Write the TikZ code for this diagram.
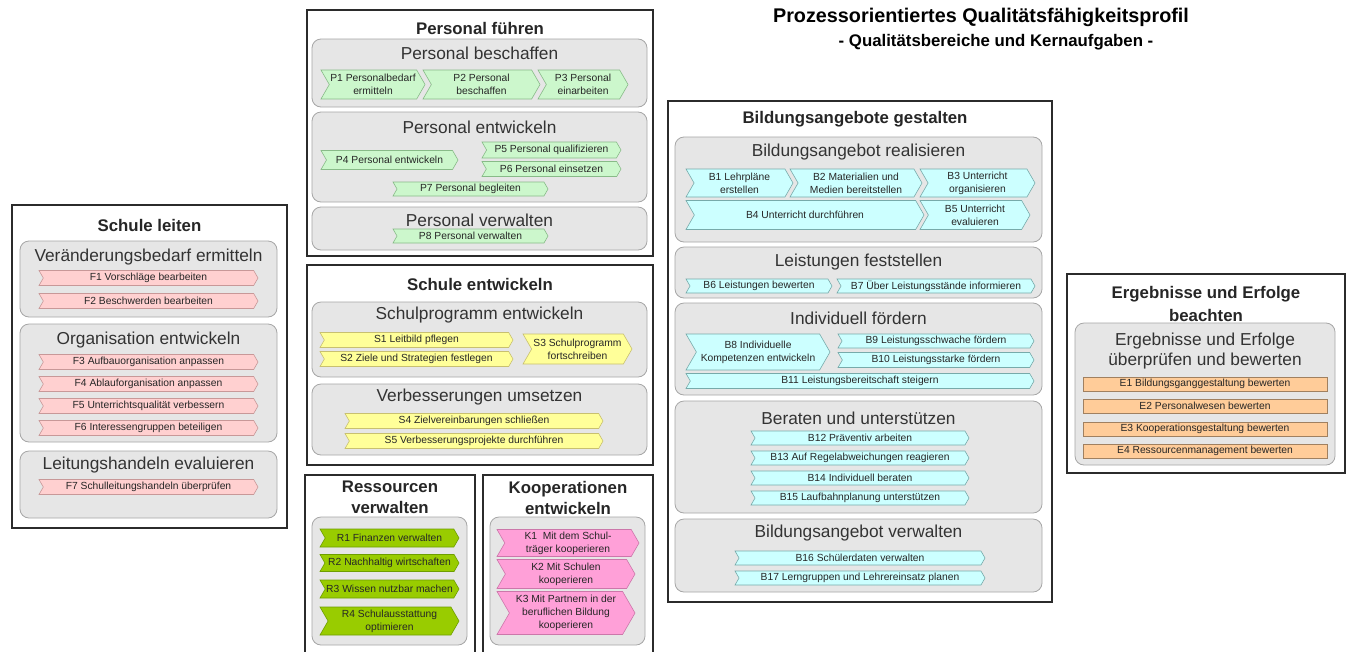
\documentclass[tikz,border=0pt]{standalone}
\usepackage{fontspec}
\setmainfont{Liberation Sans}
\usetikzlibrary{shapes.symbols}
\definecolor{framecol}{HTML}{2B2B2B}
\definecolor{areafill}{HTML}{E6E6E6}
\definecolor{arealine}{HTML}{A6A6A6}
\definecolor{fcol}{HTML}{FFD0D0}
\definecolor{fline}{HTML}{C89898}
\definecolor{pcol}{HTML}{CCF7CC}
\definecolor{pline}{HTML}{88BB88}
\definecolor{scol}{HTML}{FFFF99}
\definecolor{sline}{HTML}{C8C070}
\definecolor{rcol}{HTML}{99CC00}
\definecolor{rline}{HTML}{6E9E00}
\definecolor{kcol}{HTML}{FFA0D8}
\definecolor{kline}{HTML}{CC77AA}
\definecolor{bcol}{HTML}{CCFFFF}
\definecolor{bline}{HTML}{77AAAA}
\definecolor{ecol}{HTML}{FFCC99}
\definecolor{eline}{HTML}{A08060}
\tikzset{
  groupbox/.style={draw=framecol, line width=1.4pt, fill=white},
  areabox/.style={draw=arealine, fill=areafill, rounded corners=9pt, line width=0.8pt},
  headline/.style={font=\bfseries\fontsize{16.8}{21}\selectfont, align=center, text=black!85},
  areatitle/.style={font=\fontsize{17.3}{20}\selectfont, align=center, text=black!80},
  chev/.style={shape=signal, signal to=east, signal from=west,
    signal pointer angle=120, line width=0.6pt, inner sep=1pt, align=center,
    font=\fontsize{10.3}{13}\selectfont, text=black!85},
  fchev/.style={chev, fill=fcol, draw=fline},
  pchev/.style={chev, fill=pcol, draw=pline},
  schev/.style={chev, fill=scol, draw=sline},
  rchev/.style={chev, fill=rcol, draw=rline},
  kchev/.style={chev, fill=kcol, draw=kline},
  bchev/.style={chev, fill=bcol, draw=bline},
  ebox/.style={rectangle, fill=ecol, draw=eline, line width=0.6pt, inner sep=1pt,
    minimum width=244pt, minimum height=14pt, font=\fontsize{10.3}{13}\selectfont, text=black!85}
}

\begin{document}
\begin{tikzpicture}[x=1pt, y=-1pt]
  \useasboundingbox (0,0) rectangle (1348,651);

  % Title.
  \node[font=\bfseries\fontsize{19.8}{22}\selectfont] (title) at (981,17)
    {Prozessorientiertes Qualitätsfähigkeitsprofil};
  \node[font=\bfseries\fontsize{16.8}{18}\selectfont] (subtitle) at (996,42)
    {- Qualitätsbereiche und Kernaufgaben -};

  % Schule leiten.
  \draw[groupbox] (12,205) rectangle (287,528);
  \node[headline] (leiten) at (149.5,225) {Schule leiten};
  \draw[areabox] (20,241) rectangle (277,317);
  \draw[areabox] (20,324) rectangle (277,442);
  \draw[areabox] (20,451) rectangle (277,518);
  \node[areatitle] (veraend) at (148.5,257) {Veränderungsbedarf ermitteln};
  \node[areatitle] (orga) at (148.5,340) {Organisation entwickeln};
  \node[areatitle] (leithand) at (148.5,465) {Leitungshandeln evaluieren};
  \foreach \n/\y/\t in {f1/278/F1 Vorschläge bearbeiten, f2/301/F2 Beschwerden bearbeiten,
      f3/362/F3 Aufbauorganisation anpassen, f4/384/F4 Ablauforganisation anpassen,
      f5/406/F5 Unterrichtsqualität verbessern, f6/428/F6 Interessengruppen beteiligen,
      f7/487/F7 Schulleitungshandeln überprüfen} {
    \node[fchev, minimum width=219pt, minimum height=15pt] (\n) at (148.5,\y) {\t};
  }

  % Personal fuehren.
  \draw[groupbox] (307,10) rectangle (653,256);
  \node[headline] (fuehren) at (480,28) {Personal führen};
  \draw[areabox] (312,39) rectangle (647,107);
  \draw[areabox] (312,112) rectangle (647,202);
  \draw[areabox] (312,207) rectangle (647,250);
  \node[areatitle] (beschaffen) at (479.5,53) {Personal beschaffen};
  \node[areatitle] (pentw) at (479.5,127) {Personal entwickeln};
  \node[areatitle] (pverw) at (479.5,220) {Personal verwalten};
  \node[pchev, minimum width=104pt, minimum height=29pt] (p1) at (373,84.5) {P1 Personalbedarf\\ermitteln};
  \node[pchev, minimum width=117pt, minimum height=29pt] (p2) at (481.5,84.5) {P2 Personal\\beschaffen};
  \node[pchev, minimum width=90pt, minimum height=29pt] (p3) at (583,84.5) {P3 Personal\\einarbeiten};
  \node[pchev, minimum width=137pt, minimum height=19pt] (p4) at (389.5,160) {P4 Personal entwickeln};
  \node[pchev, minimum width=139pt, minimum height=16pt] (p5) at (551.5,150) {P5 Personal qualifizieren};
  \node[pchev, minimum width=139pt, minimum height=15pt] (p6) at (551.5,169) {P6 Personal einsetzen};
  \node[pchev, minimum width=155pt, minimum height=14pt] (p7) at (470.5,189) {P7 Personal begleiten};
  \node[pchev, minimum width=155pt, minimum height=14pt] (p8) at (470.5,236) {P8 Personal verwalten};

  % Schule entwickeln.
  \draw[groupbox] (307,265) rectangle (653,465);
  \node[headline] (sentw) at (480,284) {Schule entwickeln};
  \draw[areabox] (312,302) rectangle (647,377);
  \draw[areabox] (312,384) rectangle (647,455);
  \node[areatitle] (sprog) at (479.5,315) {Schulprogramm entwickeln};
  \node[areatitle] (verbess) at (479.5,397) {Verbesserungen umsetzen};
  \node[schev, minimum width=193pt, minimum height=15pt] (s1) at (416.5,340) {S1 Leitbild pflegen};
  \node[schev, minimum width=193pt, minimum height=15pt] (s2) at (416.5,359) {S2 Ziele und Strategien festlegen};
  \node[schev, minimum width=109pt, minimum height=30pt] (s3) at (577.5,349) {S3 Schulprogramm\\fortschreiben};
  \node[schev, minimum width=258pt, minimum height=15pt] (s4) at (474,421) {S4 Zielvereinbarungen schließen};
  \node[schev, minimum width=258pt, minimum height=15pt] (s5) at (474,441) {S5 Verbesserungsprojekte durchführen};

  % Ressourcen verwalten.
  \draw[groupbox] (305,475) rectangle (475,665);
  \node[headline] (ress) at (390,497.5) {Ressourcen\\verwalten};
  \draw[areabox] (312,517) rectangle (467,645);
  \node[rchev, minimum width=139pt, minimum height=18pt] (r1) at (389.5,538) {R1 Finanzen verwalten};
  \node[rchev, minimum width=139pt, minimum height=17pt] (r2) at (389.5,563) {R2 Nachhaltig wirtschaften};
  \node[rchev, minimum width=139pt, minimum height=18pt] (r3) at (389.5,589) {R3 Wissen nutzbar machen};
  \node[rchev, minimum width=139pt, minimum height=28pt] (r4) at (389.5,621) {R4 Schulausstattung\\optimieren};

  % Kooperationen entwickeln.
  \draw[groupbox] (483,475) rectangle (653,665);
  \node[headline] (koop) at (568,497.5) {Kooperationen\\entwickeln};
  \draw[areabox] (490,517) rectangle (645,645);
  \node[kchev, minimum width=142pt, minimum height=27pt] (k1) at (568,543) {K1\ \ Mit dem Schul-\\träger kooperieren};
  \node[kchev, minimum width=138pt, minimum height=29pt] (k2) at (566,574) {K2 Mit Schulen\\kooperieren};
  \node[kchev, minimum width=138pt, minimum height=43pt] (k3) at (566,613) {K3 Mit Partnern in der\\beruflichen Bildung\\kooperieren};

  % Bildungsangebote gestalten.
  \draw[groupbox] (668,101) rectangle (1052,602);
  \node[headline] (bild) at (855,119) {Bildungsangebote gestalten};
  \draw[areabox] (675,137) rectangle (1042,242);
  \draw[areabox] (675,247) rectangle (1042,298);
  \draw[areabox] (675,303) rectangle (1042,395);
  \draw[areabox] (675,401) rectangle (1042,513);
  \draw[areabox] (675,519) rectangle (1042,592);
  \node[areatitle] (breal) at (858.5,152) {Bildungsangebot realisieren};
  \node[areatitle] (bleist) at (858.5,262) {Leistungen feststellen};
  \node[areatitle] (bindiv) at (858.5,318) {Individuell fördern};
  \node[areatitle] (bberat) at (858.5,418) {Beraten und unterstützen};
  \node[areatitle] (bverw) at (858.5,533) {Bildungsangebot verwalten};
  \node[bchev, minimum width=107pt, minimum height=28pt] (b1) at (739.5,183) {B1 Lehrpläne\\erstellen};
  \node[bchev, minimum width=132pt, minimum height=28pt] (b2) at (856,183) {B2 Materialien und\\Medien bereitstellen};
  \node[bchev, minimum width=115pt, minimum height=28pt] (b3) at (977.5,183) {B3 Unterricht\\organisieren};
  \node[bchev, minimum width=238pt, minimum height=29pt] (b4) at (805,215) {B4 Unterricht durchführen};
  \node[bchev, minimum width=110pt, minimum height=29pt] (b5) at (975,215) {B5 Unterricht\\evaluieren};
  \node[bchev, minimum width=146pt, minimum height=14pt] (b6) at (759,286) {B6 Leistungen bewerten};
  \node[bchev, minimum width=198pt, minimum height=14pt] (b7) at (936,286) {B7 Über Leistungsstände informieren};
  \node[bchev, minimum width=144pt, minimum height=36pt] (b8) at (758,352) {B8 Individuelle\\Kompetenzen entwickeln};
  \node[bchev, minimum width=196pt, minimum height=14pt] (b9) at (936,341) {B9 Leistungsschwache fördern};
  \node[bchev, minimum width=196pt, minimum height=15pt] (b10) at (936,360) {B10 Leistungsstarke fördern};
  \node[bchev, minimum width=348pt, minimum height=15pt] (b11) at (860,381) {B11 Leistungsbereitschaft steigern};
  \foreach \n/\y/\t in {b12/438/B12 Präventiv arbeiten, b13/458/B13 Auf Regelabweichungen reagieren,
      b14/478/B14 Individuell beraten, b15/498/B15 Laufbahnplanung unterstützen} {
    \node[bchev, minimum width=218pt, minimum height=14pt] (\n) at (860,\y) {\t};
  }
  \foreach \n/\y/\t in {b16/558/B16 Schülerdaten verwalten, b17/578/B17 Lerngruppen und Lehrereinsatz planen} {
    \node[bchev, minimum width=250pt, minimum height=14pt] (\n) at (860,\y) {\t};
  }

  % Ergebnisse und Erfolge beachten.
  \draw[groupbox] (1067,274) rectangle (1345,473);
  \node[headline, font=\bfseries\fontsize{16.8}{23}\selectfont] (erg) at (1206,303.5) {Ergebnisse und Erfolge\\beachten};
  \draw[areabox] (1075,323) rectangle (1335,465);
  \node[areatitle] (epruef) at (1205,351) {Ergebnisse und Erfolge\\überprüfen und bewerten};
  \foreach \n/\y/\t in {e1/384/E1 Bildungsganggestaltung bewerten, e2/406/E2 Personalwesen bewerten,
      e3/429/E3 Kooperationsgestaltung bewerten, e4/451/E4 Ressourcenmanagement bewerten} {
    \node[ebox] (\n) at (1205,\y) {\t};
  }

\end{tikzpicture}
\end{document}
